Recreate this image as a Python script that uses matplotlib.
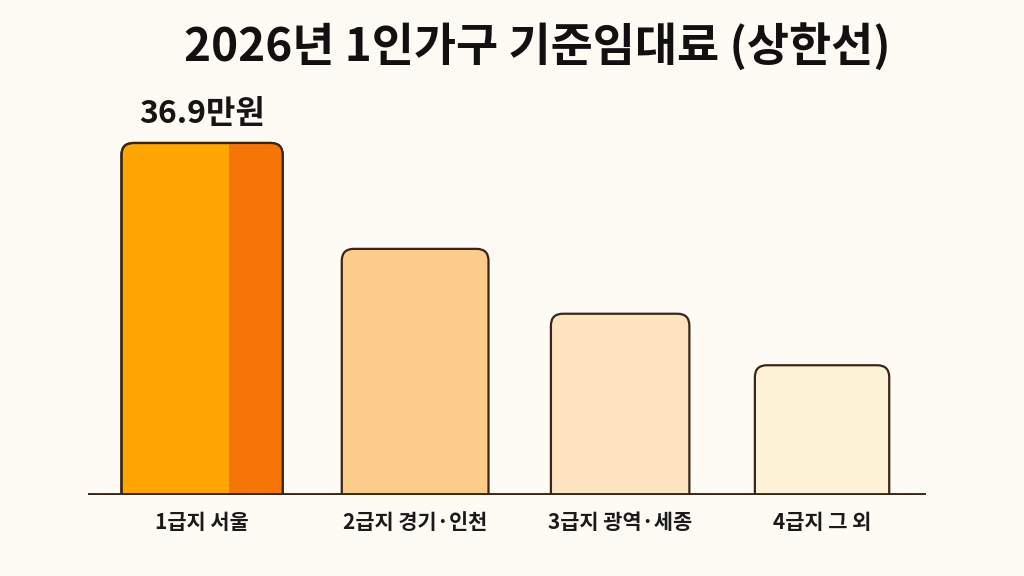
import matplotlib.pyplot as plt
from matplotlib.patches import FancyBboxPatch, Rectangle
import numpy as np

plt.rcParams['font.family'] = ['Noto Sans CJK KR', 'DejaVu Sans']

# data
regions = ['1급지 서울', '2급지 경기·인천', '3급지 광역·세종', '4급지 그 외']
rent = [36.9, 25.8, 19.0, 13.6]   # 만원 (상한선)
shown_label = ['36.9만원', '', '', '']

title = '2026년 1인가구 기준임대료 (상한선)'

# style
bg = '#FDFBF4'
edge = '#3A2616'
fills = ['#FFA504', '#FDCB8A', '#FDE3BE', '#FDF1D6']
accent = '#F57607'
xpos = [0, 1.031, 2.023, 3]
widths = [0.78, 0.71, 0.67, 0.65]

fig = plt.figure(figsize=(10.24, 5.76), dpi=100, facecolor=bg)
ax = fig.add_axes([88 / 1024, 81 / 576, 838 / 1024, 415 / 576])
ax.set_facecolor(bg)
ax.set_xlim(-0.552, 3.503)
ax.set_ylim(0, 43.5)

bars = ax.bar(xpos, rent, width=widths, color='none', edgecolor='none')
fig.canvas.draw()

# pixel -> data scale, for round corners that look round
p0 = ax.transData.transform((0, 0))
p1 = ax.transData.transform((1, 1))
px_x = p1[0] - p0[0]
px_y = p1[1] - p0[1]
aspect = px_x / px_y
r = 12 / px_x

for i, rect in enumerate(bars):
    x, w, h = rect.get_x(), rect.get_width(), rect.get_height()
    box = FancyBboxPatch((x, -3), w, h + 3,
                         boxstyle=f'round,pad=0,rounding_size={r}',
                         mutation_aspect=aspect,
                         facecolor=fills[i], edgecolor=edge, lw=1.6, zorder=3)
    ax.add_patch(box)
    if i == 0:
        dark = Rectangle((x + w * 0.67, -3), w * 0.33, h + 3,
                         facecolor=accent, edgecolor='none', zorder=3)
        ax.add_patch(dark)
        dark.set_clip_path(box)
        outline = FancyBboxPatch((x, -3), w, h + 3,
                                 boxstyle=f'round,pad=0,rounding_size={r}',
                                 mutation_aspect=aspect,
                                 facecolor='none', edgecolor=edge, lw=1.6, zorder=4)
        ax.add_patch(outline)
    if shown_label[i]:
        ax.text(rect.get_x() + w / 2, h + 1.4, shown_label[i], ha='center', va='bottom',
                fontsize=23, fontweight='bold', color='#151515')

# baseline with soft shadow
ax.axhline(-0.4, color='#d9d2c6', lw=5, alpha=0.6, zorder=2)
ax.axhline(0, color=edge, lw=3.5, zorder=5, solid_capstyle='round')

ax.set_xticks(xpos)
ax.set_xticklabels(regions, fontsize=15, fontweight='bold', color='#1a1a1a')
ax.tick_params(axis='x', length=0, pad=12)
ax.set_yticks([])
for s in ax.spines.values():
    s.set_visible(False)

fig.text(0.525, 0.918, title, ha='center', va='center', fontsize=33,
         fontweight='black', color='#111111')

fig.savefig('out.png', dpi=100, facecolor=bg)
